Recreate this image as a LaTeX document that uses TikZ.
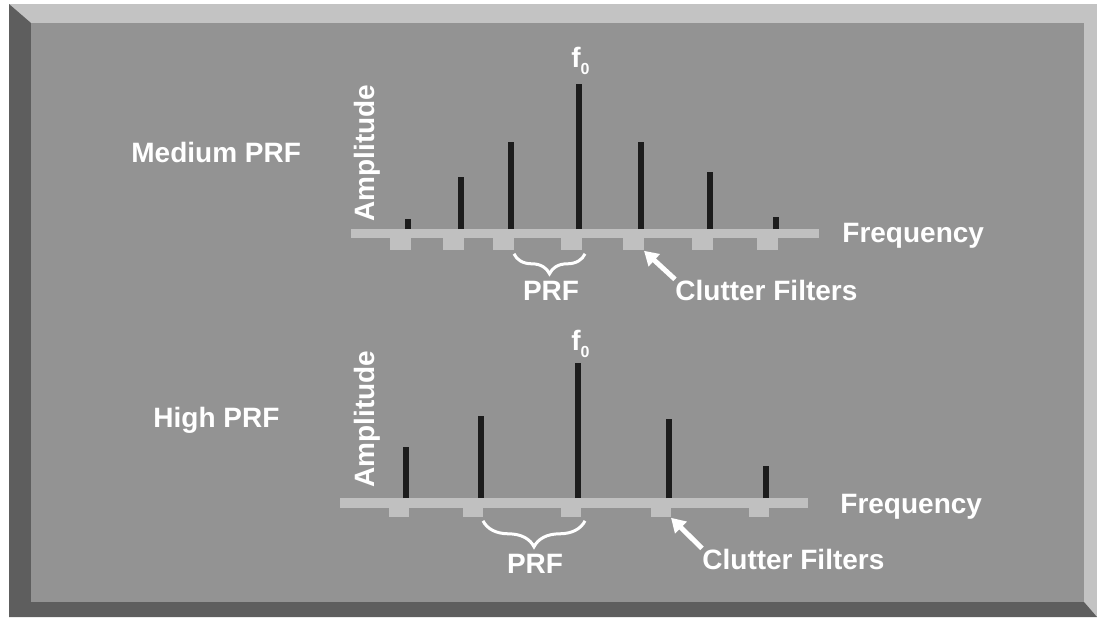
\documentclass[tikz,border=0pt]{standalone}
\usepackage{fontspec}
\setmainfont{Liberation Sans}
\usepackage{tikz}
\usetikzlibrary{arrows.meta, decorations.pathreplacing}
\definecolor{Panel}     {HTML}{939393}
\definecolor{PanelLight}{HTML}{C3C3C3}
\definecolor{PanelDark} {HTML}{5E5E5E}
\definecolor{Bar}       {HTML}{C0C0C0}
\definecolor{Spike}     {HTML}{1C1C1C}
\tikzset{
  lbl/.style={text=white, font=\fontsize{14}{16}\selectfont\bfseries, inner sep=0pt},
  filter/.style 2 args={fill=Bar, minimum width=#1, minimum height=#2, inner sep=0pt, anchor=north east},
  spike/.style={draw=Spike, line width=2.8pt},
  prfbrace/.style={draw=white, line width=1.5pt, decorate, decoration={brace, mirror, amplitude=#1}},
  cfarrow/.style={draw=white, line width=2.5pt, -{Triangle[length=7pt, width=8pt]}},
}
\newcommand{\fnull}{f\raisebox{-3.5pt}{\fontsize{8}{9}\selectfont 0}}

\begin{document}
\begin{tikzpicture}[x=0.5pt, y=-0.5pt]
  \useasboundingbox (0,0) rectangle (1097,617);
  % bevelled panel
  \fill[PanelLight] (9,4) rectangle (1097,617);
  \fill[PanelDark] (9,4) -- (31,23) -- (31,602) -- (1084,602) -- (1097,617) -- (9,617) -- cycle;
  \fill[Panel] (31,23) rectangle (1084,602);

  % medium PRF
  \node[lbl, anchor=base west] (medLbl) at (131,162) {Medium PRF};
  \node[lbl, rotate=90, anchor=base west] (ampA) at (374,222) {Amplitude};
  \fill[Bar] (351,229) rectangle (819,238);
  \foreach \x [count=\i] in {411,464,514,582,644,713,778}
    \node[filter={10.5pt}{6pt}] (fltA\i) at (\x,238) {};
  \foreach \x/\t in {408/219, 461/177, 511/142, 579/84, 641/142, 710/172, 776/217}
    \draw[spike] (\x,229) -- (\x,\t);
  \node[lbl, anchor=base west] (fA) at (571,67) {\fnull};
  \node[lbl, anchor=base west] (freqA) at (842,242) {Frequency};
  \draw[prfbrace=10pt] ([yshift=-1.5pt]fltA3.south east) -- ([xshift=1.5pt, yshift=-1.5pt]fltA4.south east);
  \node[lbl, anchor=base] (prfA) at (551,300) {PRF};
  \node[lbl, anchor=base west] (cfA) at (675,300) {Clutter Filters};
  \draw[cfarrow] (cfA.north west) -- (fltA5.south east);

  % high PRF
  \node[lbl, anchor=base west] (highLbl) at (153,427) {High PRF};
  \node[lbl, rotate=90, anchor=base west] (ampB) at (374,488) {Amplitude};
  \fill[Bar] (340,498) rectangle (808,508);
  \foreach \x [count=\i] in {409,483,581,671,769}
    \node[filter={10pt}{4.5pt}] (fltB\i) at (\x,508) {};
  \foreach \x/\t in {406/447, 481/416, 578/363, 669/419, 766/466}
    \draw[spike] (\x,498) -- (\x,\t);
  \node[lbl, anchor=base west] (fB) at (571,350) {\fnull};
  \node[lbl, anchor=base west] (freqB) at (840,513) {Frequency};
  \draw[prfbrace=13pt] ([yshift=-1.5pt]fltB2.south east) -- ([xshift=2pt, yshift=-1.5pt]fltB3.south east);
  \node[lbl, anchor=base] (prfB) at (535,573) {PRF};
  \node[lbl, anchor=base west] (cfB) at (702,569) {Clutter Filters};
  \draw[cfarrow] (cfB.north west) -- (fltB4.south east);
\end{tikzpicture}
\end{document}
